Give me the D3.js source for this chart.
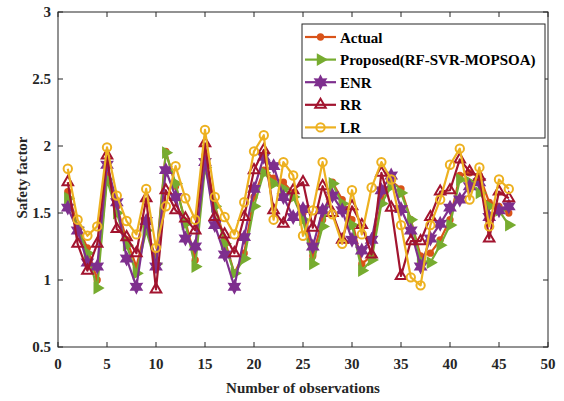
<!DOCTYPE html>
<html>
<head>
<meta charset="utf-8">
<script src="https://cdn.jsdelivr.net/npm/d3@7"></script>
<style>
  body { margin: 0; background: #fff; }
  text { font-family: "Liberation Serif", "Times New Roman", serif; font-weight: bold; }
</style>
</head>
<body>
<svg width="564" height="401"></svg>
<script>
var svg = d3.select("svg"),
    width = +svg.attr("width"),
    height = +svg.attr("height");

// observations 1..46
var obs = d3.range(1, 47);

var actual   = [1.66,1.40,1.24,1.00,1.78,1.55,1.30,1.10,1.40,1.15, 1.96,1.70,1.44,1.15,1.93,1.56,1.30,1.05,1.20,1.62,
                1.82,1.76,1.73,1.65,1.50,1.18,1.45,1.73,1.60,1.45, 1.12,1.18,1.60,1.74,1.68,1.45,1.18,1.20,1.30,1.45,
                1.78,1.80,1.78,1.58,1.55,1.50];
var proposed = [1.61,1.39,1.20,0.94,1.75,1.50,1.26,1.05,1.37,1.12, 1.95,1.72,1.42,1.10,1.84,1.55,1.27,1.05,1.16,1.55,
                1.80,1.72,1.68,1.62,1.45,1.12,1.40,1.72,1.57,1.41, 1.07,1.15,1.57,1.70,1.65,1.45,1.14,1.13,1.26,1.41,
                1.75,1.73,1.65,1.55,1.52,1.41];
var enr      = [1.54,1.37,1.13,1.10,1.86,1.58,1.16,0.95,1.44,1.10, 1.82,1.62,1.31,1.25,1.88,1.41,1.19,0.95,1.32,1.68,
                1.92,1.85,1.62,1.47,1.53,1.25,1.52,1.63,1.52,1.30, 1.22,1.30,1.67,1.78,1.53,1.37,1.10,1.31,1.42,1.54,
                1.60,1.70,1.73,1.47,1.52,1.55];
var rr       = [1.73,1.27,1.07,1.27,1.93,1.38,1.32,1.20,1.61,0.93, 1.67,1.52,1.46,1.37,2.02,1.47,1.34,1.20,1.47,1.82,
                1.97,1.52,1.42,1.67,1.73,1.39,1.70,1.50,1.30,1.55, 1.41,1.19,1.80,1.54,1.03,1.29,1.29,1.47,1.66,1.67,
                1.90,1.81,1.77,1.31,1.66,1.61];
var lr       = [1.83,1.45,1.33,1.40,1.99,1.63,1.44,1.34,1.68,1.24, 1.55,1.85,1.61,1.45,2.12,1.62,1.47,1.34,1.58,1.96,
                2.08,1.45,1.88,1.78,1.33,1.52,1.88,1.49,1.27,1.67, 1.34,1.69,1.88,1.75,1.41,1.02,0.96,1.41,1.60,1.86,
                1.98,1.60,1.84,1.40,1.75,1.68];

var seriesNames = ["Actual", "Proposed(RF-SVR-MOPSOA)", "ENR", "RR", "LR"];
var seriesColors = ["#D95319", "#77AC30", "#7E2F8E", "#A2142F", "#EDB120"];
var xTicks = [0, 5, 10, 15, 20, 25, 30, 35, 40, 45, 50];
var yTicks = [0.5, 1, 1.5, 2, 2.5, 3];

var margin = {left: 58, right: 16, top: 12, bottom: 54};

var x = d3.scaleLinear().domain([0, 50]).range([margin.left, width - margin.right]);
var y = d3.scaleLinear().domain([0.5, 3]).range([height - margin.bottom, margin.top]);

// six pointed star like matlab hexagram
var hexagram = {
  draw: function(ctx, size) {
    var R = Math.sqrt(size) * 0.75, r = R * 0.55;
    for (var k = 0; k < 12; k++) {
      var a = -Math.PI / 2 + k * Math.PI / 6, rad = k % 2 ? r : R;
      if (k === 0) ctx.moveTo(rad * Math.cos(a), rad * Math.sin(a));
      else ctx.lineTo(rad * Math.cos(a), rad * Math.sin(a));
    }
    ctx.closePath();
  }
};

var markers = [
  {type: d3.symbolCircle, size: 22, rot: 0, fill: true},
  {type: d3.symbolTriangle, size: 38, rot: 90, fill: true},
  {type: hexagram, size: 60, rot: 0, fill: true},
  {type: d3.symbolTriangle, size: 48, rot: 0, fill: false},
  {type: d3.symbolCircle, size: 55, rot: 0, fill: false}
];

var allSeries = [actual, proposed, enr, rr, lr].map(function(vals, i) {
  return {name: seriesNames[i], color: seriesColors[i], marker: markers[i],
          points: vals.map(function(v, j) { return {x: obs[j], y: v}; })};
});

// frame
svg.append("rect")
    .attr("x", margin.left).attr("y", margin.top)
    .attr("width", x(50) - x(0)).attr("height", y(0.5) - y(3))
    .attr("fill", "none").attr("stroke", "#262626").attr("stroke-width", 1);

// ticks (inside, mirrored)
var tk = svg.append("g").attr("stroke", "#262626").attr("stroke-width", 1);
xTicks.forEach(function(t) {
  tk.append("line").attr("x1", x(t)).attr("x2", x(t)).attr("y1", y(0.5)).attr("y2", y(0.5) - 5);
  tk.append("line").attr("x1", x(t)).attr("x2", x(t)).attr("y1", y(3)).attr("y2", y(3) + 5);
});
yTicks.forEach(function(t) {
  tk.append("line").attr("x1", x(0)).attr("x2", x(0) + 5).attr("y1", y(t)).attr("y2", y(t));
  tk.append("line").attr("x1", x(50)).attr("x2", x(50) - 5).attr("y1", y(t)).attr("y2", y(t));
});

svg.append("g").selectAll("text")
    .data(xTicks)
  .enter().append("text")
    .attr("x", function(d) { return x(d); })
    .attr("y", y(0.5) + 22)
    .attr("text-anchor", "middle")
    .style("font-size", "15px")
    .attr("fill", "#262626")
    .text(function(d) { return d; });

svg.append("g").selectAll("text")
    .data(yTicks)
  .enter().append("text")
    .attr("x", x(0) - 7)
    .attr("y", function(d) { return y(d) + 5; })
    .attr("text-anchor", "end")
    .style("font-size", "15px")
    .attr("fill", "#262626")
    .text(function(d) { return d; });

svg.append("text")
    .attr("x", (x(0) + x(50)) / 2)
    .attr("y", 393)
    .attr("text-anchor", "middle")
    .style("font-size", "15px")
    .attr("fill", "#262626")
    .text("Number of observations");

svg.append("text")
    .attr("transform", "translate(27," + (y(1.75) - 2) + ") rotate(-90)")
    .attr("text-anchor", "middle")
    .style("font-size", "15px")
    .attr("fill", "#262626")
    .text("Safety factor");

var line = d3.line()
    .x(function(d) { return x(d.x); })
    .y(function(d) { return y(d.y); });

function drawMarker(sel, m, color) {
  sel.attr("d", d3.symbol().type(m.type).size(m.size))
     .attr("fill", m.fill ? color : "none")
     .attr("stroke", color)
     .attr("stroke-width", 2);
}

var gSeries = svg.append("g").selectAll("g")
    .data(allSeries)
  .enter().append("g");

gSeries.append("path")
    .attr("d", function(d) { return line(d.points); })
    .attr("fill", "none")
    .attr("stroke", function(d) { return d.color; })
    .attr("stroke-width", 2.2)
    .attr("stroke-linejoin", "round");

gSeries.each(function(s) {
  d3.select(this).selectAll(".mk")
      .data(s.points)
    .enter().append("path")
      .attr("class", "mk")
      .attr("transform", function(d) { return "translate(" + x(d.x) + "," + y(d.y) + ") rotate(" + s.marker.rot + ")"; })
      .call(drawMarker, s.marker, s.color);
});

// legend
var lgX = 302, lgY = 24, lgW = 243, lgH = 114, rowH = 22.6;
var legend = svg.append("g");
legend.append("rect")
    .attr("x", lgX).attr("y", lgY).attr("width", lgW).attr("height", lgH)
    .attr("fill", "#fff").attr("stroke", "#262626").attr("stroke-width", 1);

var rows = legend.selectAll(".row")
    .data(allSeries)
  .enter().append("g")
    .attr("class", "row")
    .attr("transform", function(d, i) { return "translate(" + lgX + "," + (lgY + 13 + i * rowH) + ")"; });

rows.append("line")
    .attr("x1", 3).attr("x2", 34)
    .attr("stroke", function(d) { return d.color; })
    .attr("stroke-width", 2.2);

rows.append("path")
    .attr("transform", function(d) { return "translate(18.5,0) rotate(" + d.marker.rot + ")"; })
    .each(function(d) { d3.select(this).call(drawMarker, d.marker, d.color); });

rows.append("text")
    .attr("x", 38)
    .attr("y", 5.5)
    .style("font-size", "15px")
    .attr("fill", "#000")
    .text(function(d) { return d.name; });
</script>
</body>
</html>
